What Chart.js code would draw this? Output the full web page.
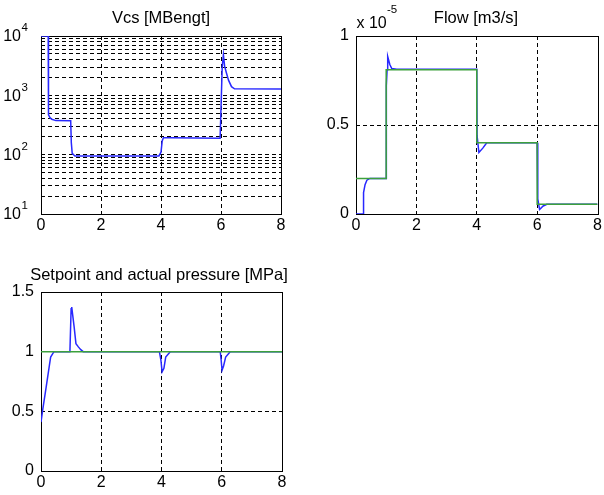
<!DOCTYPE html>
<html>
<head>
<meta charset="utf-8">
<script src="https://cdn.jsdelivr.net/npm/chart.js@4.4.1/dist/chart.umd.min.js"></script>
<style>
  html, body { margin: 0; padding: 0; background: #fff; }
  #wrap { position: relative; width: 604px; height: 495px; }
  canvas { position: absolute; left: 0; top: 0; }
</style>
</head>
<body>
<div id="wrap">
  <canvas id="vcs" width="604" height="495"></canvas>
  <canvas id="flow" width="604" height="495"></canvas>
  <canvas id="pres" width="604" height="495"></canvas>
</div>
<script>
// ── Data ───────────────────────────────────────────────────────────────────

const timeTicks = [0, 2, 4, 6, 8];

// Vcs [MBengt], log axis
const vcsT = [0, 0.24, 0.25, 0.3, 0.36, 0.5, 0.99, 1.01, 1.04, 1.13, 1.5, 3.93, 4.0, 4.04, 4.08, 4.3, 5.97, 6.0, 6.04, 6.08, 6.12, 6.17, 6.25, 6.35, 6.45, 8];
const vcsV = [10000, 10000, 470, 420, 395, 375, 372, 160, 105, 95, 95, 95, 110, 170, 193, 192, 190, 600, 3000, 4800, 3100, 2500, 1800, 1400, 1290, 1280];
const vcsTicks = [10, 20, 30, 40, 50, 60, 70, 80, 90, 100, 200, 300, 400, 500, 600, 700, 800, 900,
                  1000, 2000, 3000, 4000, 5000, 6000, 7000, 8000, 9000, 10000];
const vcsLabels = [[10, '1'], [100, '2'], [1000, '3'], [10000, '4']];

// Flow [m3/s], in units of 1e-5
const flowSetT = [0, 1, 1, 4, 4, 6, 6, 8];
const flowSetV = [0.2, 0.2, 0.81, 0.81, 0.4, 0.4, 0.055, 0.055];
const flowActT = [0, 0.24, 0.25, 0.3, 0.36, 0.46, 1.0, 1.0, 1.01, 1.03, 1.05, 1.12, 1.18, 1.35, 4.0, 4.01, 4.07, 4.2, 4.33, 6.0, 6.02, 6.08, 6.2, 6.32, 8];
const flowActV = [0, 0, 0.12, 0.165, 0.19, 0.2, 0.2, 0.66, 0.72, 0.81, 0.885, 0.84, 0.818, 0.813, 0.813, 0.44, 0.345, 0.37, 0.4, 0.4, 0.085, 0.025, 0.045, 0.055, 0.055];
const flowTicks = [0, 0.5, 1];

// Setpoint and actual pressure [MPa]
const presSetT = [0, 8];
const presSetV = [1, 1];
const presActT = [0, 0.055, 0.17, 0.27, 0.32, 0.43, 0.96, 1.0, 1.02, 1.1, 1.16, 1.24, 1.32, 1.4, 3.93, 3.98, 4.02, 4.08, 4.14, 4.29, 5.95, 5.98, 6.01, 6.06, 6.13, 6.28, 8];
const presActV = [0.41, 0.51, 0.70, 0.87, 0.955, 1.0, 1.0, 1.36, 1.374, 1.207, 1.067, 1.04, 1.017, 1.0, 1.0, 0.93, 0.83, 0.86, 0.955, 1.0, 1.0, 0.93, 0.844, 0.88, 0.955, 1.0, 1.0];
const presTicks = [0, 0.5, 1, 1.5];

// ── Shared styling ─────────────────────────────────────────────────────────

const FONT = '"Liberation Sans", Arial, Helvetica, sans-serif';
const blue  = 'rgb(40,40,255)';
const green = 'rgb(60,160,60)';
const dash  = [4, 3];

Chart.defaults.font.family = FONT;
Chart.defaults.font.size   = 16;
Chart.defaults.color       = '#000';
Chart.defaults.animation   = false;

const pts = (xs, ys) => xs.map((x, i) => ({ x, y: ys[i] }));

// grid line only for interior ticks, the frame is drawn separately
const innerGrid = (lo, hi) => ctx => {
  const v = ctx.tick && ctx.tick.value;
  return (v === lo || v === hi) ? 'rgba(0,0,0,0)' : '#000';
};

function fixedTicks(values) {
  return axis => { axis.ticks = values.map(v => ({ value: v })); };
}

// frame under the lines (lines at the edge cover it), title + extras on top
function framePlugin(title, titleX, titleY, extra) {
  return {
    id: 'frame',
    beforeDatasetsDraw(chart) {
      const { ctx, chartArea: a } = chart;
      ctx.save();
      ctx.strokeStyle = '#000';
      ctx.lineWidth = 1;
      ctx.setLineDash([]);
      ctx.strokeRect(Math.round(a.left) + 0.5, Math.round(a.top) + 0.5,
                     Math.round(a.right - a.left), Math.round(a.bottom - a.top));
      ctx.restore();
    },
    afterDraw(chart) {
      const { ctx } = chart;
      ctx.save();
      ctx.fillStyle = '#000';
      ctx.font = '16.5px ' + FONT;
      ctx.textAlign = 'center';
      ctx.textBaseline = 'alphabetic';
      ctx.fillText(title, titleX, titleY);
      if (extra) extra(chart, ctx);
      ctx.restore();
    },
  };
}

function lineSet(data, color) {
  return {
    data,
    borderColor: color,
    borderWidth: 1.5,
    pointRadius: 0,
    tension: 0,
    fill: false,
  };
}

function baseOptions(pad, yWidth, yScale) {
  return {
    responsive: false,
    animation: false,
    events: [],
    layout: { padding: pad },
    plugins: { legend: { display: false }, tooltip: { enabled: false }, title: { display: false } },
    scales: {
      x: {
        type: 'linear',
        min: 0, max: 8,
        afterBuildTicks: fixedTicks(timeTicks),
        afterFit: s => { s.height = 24; },
        grid: { color: innerGrid(0, 8), drawTicks: false, lineWidth: 1 },
        border: { display: false, dash },
        ticks: { padding: 2, autoSkip: false, maxRotation: 0 },
      },
      y: Object.assign({
        afterFit: s => { s.width = yWidth; },
      }, yScale),
    },
  };
}

// ── Vcs (log) ──────────────────────────────────────────────────────────────

new Chart(document.getElementById('vcs'), {
  type: 'line',
  data: { datasets: [lineSet(pts(vcsT, vcsV), blue)] },
  options: baseOptions({ left: 0, top: 36, right: 323, bottom: 257 }, 41, {
    type: 'logarithmic',
    min: 10, max: 10000,
    afterBuildTicks: fixedTicks(vcsTicks),
    grid: { color: innerGrid(10, 10000), drawTicks: false, lineWidth: 1 },
    border: { display: false, dash },
    ticks: { display: false, autoSkip: false },
  }),
  plugins: [framePlugin('Vcs [MBengt]', 161, 23, (chart, ctx) => {
    const ys = chart.scales.y;
    ctx.textBaseline = 'middle';
    for (const [v, exp] of vcsLabels) {
      const y = ys.getPixelForValue(v);
      ctx.font = '16px ' + FONT;
      ctx.textAlign = 'right';
      ctx.fillText('10', 21, y + 1);
      ctx.font = '11.5px ' + FONT;
      ctx.textAlign = 'left';
      ctx.fillText(exp, 21.5, y - 8);
    }
  })],
});

// ── Flow ───────────────────────────────────────────────────────────────────

new Chart(document.getElementById('flow'), {
  type: 'line',
  data: { datasets: [lineSet(pts(flowSetT, flowSetV), green), lineSet(pts(flowActT, flowActV), blue)] },
  options: baseOptions({ left: 306, top: 36, right: 6, bottom: 257 }, 50, {
    type: 'linear',
    min: 0, max: 1,
    afterBuildTicks: fixedTicks(flowTicks),
    grid: { color: innerGrid(0, 1), drawTicks: false, lineWidth: 1 },
    border: { display: false, dash },
    ticks: { padding: 7, autoSkip: false, callback: v => String(v) },
  }),
  plugins: [framePlugin('Flow [m3/s]', 476, 23, (chart, ctx) => {
    ctx.textAlign = 'left';
    ctx.font = '16px ' + FONT;
    ctx.fillText('x 10', 356.5, 27.5);
    ctx.font = '11.5px ' + FONT;
    ctx.fillText('-5', 387, 13);
  })],
});

// ── Pressure ───────────────────────────────────────────────────────────────

new Chart(document.getElementById('pres'), {
  type: 'line',
  data: { datasets: [lineSet(pts(presSetT, presSetV), green), lineSet(pts(presActT, presActV), blue)] },
  options: baseOptions({ left: 0, top: 292, right: 322, bottom: 0 }, 41, {
    type: 'linear',
    min: 0, max: 1.5,
    afterBuildTicks: fixedTicks(presTicks),
    grid: { color: innerGrid(0, 1.5), drawTicks: false, lineWidth: 1 },
    border: { display: false, dash },
    ticks: { padding: 7, autoSkip: false, callback: v => String(v) },
  }),
  plugins: [framePlugin('Setpoint and actual pressure [MPa]', 159, 279.5)],
});
</script>
</body>
</html>
